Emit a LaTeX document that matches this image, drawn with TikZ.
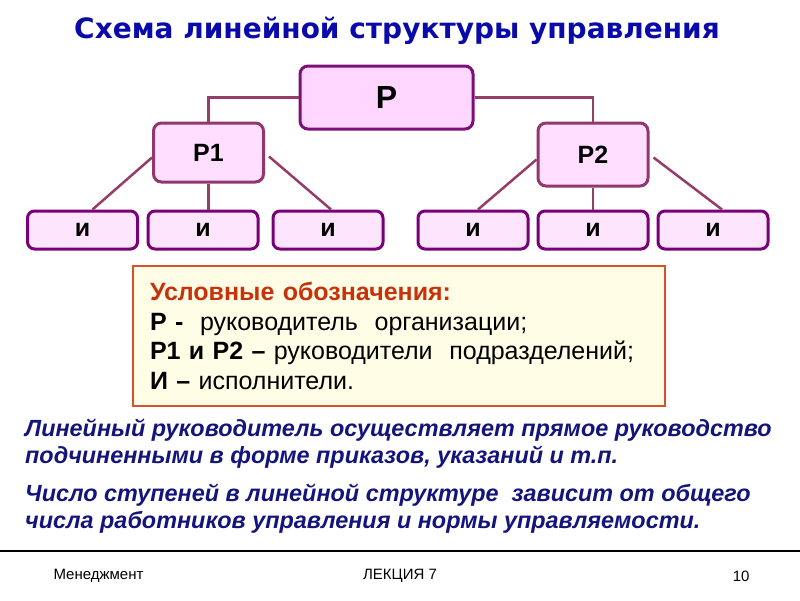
\documentclass[tikz,border=0pt]{standalone}
\usepackage{fontspec}
\setmainfont{Liberation Sans}
\newfontfamily\titlefont{DejaVu Sans}
\usetikzlibrary{positioning}
\definecolor{titleblue}{RGB}{10,10,170}
\definecolor{noteblue}{RGB}{20,20,125}
\definecolor{chiefline}{RGB}{125,15,120}
\definecolor{subline}{RGB}{145,55,110}
\definecolor{workline}{RGB}{120,0,120}
\definecolor{chieffill}{RGB}{255,214,255}
\definecolor{subfill}{RGB}{255,222,255}
\definecolor{workfill}{RGB}{253,230,253}
\definecolor{linkline}{RGB}{150,60,105}
\definecolor{legendfill}{RGB}{255,253,230}
\definecolor{legendline}{RGB}{220,80,40}
\definecolor{legendhead}{RGB}{200,50,10}

\begin{document}
\begin{tikzpicture}[x=1pt, y=-1pt,
    chief/.style={draw=chiefline, fill=chieffill, line width=3pt, rounded corners=8pt,
                  minimum width=173pt, minimum height=63pt, font=\fontsize{32}{32}\selectfont\bfseries},
    sub/.style={draw=subline, fill=subfill, line width=3pt, rounded corners=8pt,
                minimum width=110pt, font=\fontsize{25}{25}\selectfont\bfseries},
    worker/.style={draw=workline, fill=workfill, line width=3pt, rounded corners=7pt,
                   minimum width=110pt, minimum height=38pt, font=\fontsize{25}{25}\selectfont\bfseries},
    link/.style={draw=linkline, line width=2.5pt},
    note/.style={anchor=north west, align=left, text=noteblue, inner sep=0pt,
                 font=\fontsize{23.4}{27}\selectfont\bfseries\itshape},
    foot/.style={font=\fontsize{15}{15}\selectfont}
]
\useasboundingbox (0,0) rectangle (800,600);

\node[text=titleblue, font=\titlefont\fontsize{28}{28}\selectfont\bfseries] (title) at (397,31)
    {Схема линейной структуры управления};

% chart
\node[chief] (P) at (386.5,97.5) {Р};
\node[sub, minimum height=59pt] (P1) at (208.5,152.5) {Р1};
\node[sub, minimum height=63pt] (P2) at (593,154.5) {Р2};

\node[worker] (I1) at (82.5,230) {и};
\node[worker] (I2) at (203,230) {и};
\node[worker] (I3) at (328,230) {и};
\node[worker] (I4) at (473,230) {и};
\node[worker] (I5) at (593,230) {и};
\node[worker] (I6) at (713,230) {и};

\draw[link] (P.west) -| (P1.north);
\draw[link] (P.east) -| (P2.north);

\draw[link] ([yshift=-5pt]P1.west) -- ([xshift=10pt]I1.north);
\draw[link] (P1.south) -- (P1.south |- I2.north);
\draw[link] ([xshift=4pt,yshift=-4pt]P1.east) -- ([xshift=3pt]I3.north);
\draw[link] ([yshift=-5pt]P2.west) -- ([xshift=5pt]I4.north);
\draw[link] (P2.south) -- (P2.south |- I5.north);
\draw[link] ([xshift=4pt,yshift=-3pt]P2.east) -- ([xshift=9pt]I6.north);

% legend
\node[draw=legendline, fill=legendfill, line width=1.8pt, minimum height=140pt,
      text width=498pt, inner xsep=17pt, align=left,
      font=\fontsize{25}{29.5}\selectfont] (legend) at (399,336)
    {{\bfseries\color{legendhead}Условные обозначения:}\\
     {\bfseries Р -}\ \ руководитель\ \ организации;\\
     {\bfseries Р1 и Р2 –} руководители\ \ подразделений;\\
     {\bfseries И –} исполнители.};

% notes
\node[note] (note1) at (25,419)
    {Линейный руководитель осуществляет прямое руководство\\
     подчиненными в форме приказов, указаний и т.п.};
\node[note] (note2) at (25,484)
    {Число ступеней в линейной структуре\ \ зависит от общего\\
     числа работников управления и нормы управляемости.};

% footer
\draw[line width=1.5pt] (0,551) -- (800,551);
\node[foot, anchor=west] (subject) at (50,576) {Менеджмент};
\node[foot] (lecture) at (400,576) {ЛЕКЦИЯ 7};
\node[foot, anchor=east] (page) at (753,576) {10};
\end{tikzpicture}
\end{document}
